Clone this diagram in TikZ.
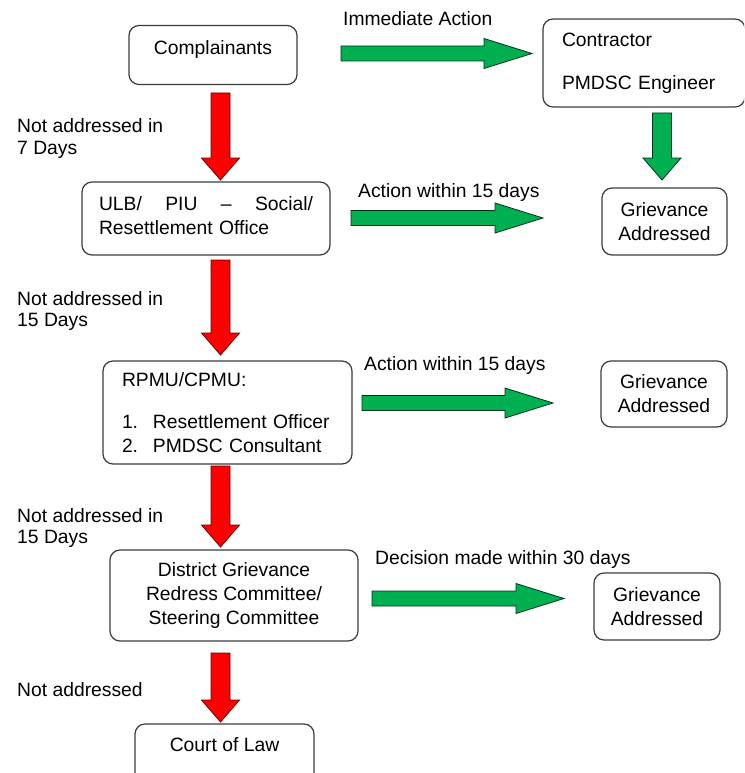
\documentclass[tikz,border=0pt]{standalone}
\usepackage{fontspec}
\setmainfont{Liberation Sans}
\usepackage{xcolor}
\usetikzlibrary{calc}
\definecolor{arrowgreen}{RGB}{0,176,80}
\definecolor{boxline}{RGB}{60,60,60}
\tikzset{
  box/.style={draw=boxline,line width=1.2pt,rounded corners=10pt,inner sep=0pt,align=center},
  lbl/.style={inner sep=0pt,anchor=west,align=left},
  gfill/.style={fill=arrowgreen,draw=black!70!arrowgreen,line width=0.8pt},
  rfill/.style={fill=red,draw=black!60!red,line width=0.8pt}
}
% block arrow to the right: start, tip, style
\newcommand{\blockright}[3]{%
  \draw[#3] let \p1=(#1), \p2=(#2) in
    (\x1,\y1+7.5pt) -- (\x2-48pt,\y1+7.5pt) -- (\x2-48pt,\y1+15pt) -- (\x2,\y1)
    -- (\x2-48pt,\y1-15pt) -- (\x2-48pt,\y1-7.5pt) -- (\x1,\y1-7.5pt) -- cycle;}
% block arrow downwards: start, tip, style
\newcommand{\blockdown}[3]{%
  \draw[#3] let \p1=(#1), \p2=(#2) in
    (\x1-9.5pt,\y1) -- (\x1-9.5pt,\y2+22pt) -- (\x1-19pt,\y2+22pt) -- (\x1,\y2)
    -- (\x1+19pt,\y2+22pt) -- (\x1+9.5pt,\y2+22pt) -- (\x1+9.5pt,\y1) -- cycle;}

\begin{document}
\begin{tikzpicture}[x=1pt,y=-1pt,font=\fontsize{19.3}{24}\selectfont]
\clip (0,0) rectangle (744,773);
\fill[white] (0,0) rectangle (744,773);
% boxes
\node[box,minimum width=168pt,minimum height=59pt,text depth=15pt] (compl) at (213,55) {Complainants};
\node[box,minimum width=202pt,minimum height=88pt,text width=164pt,align=left] (contr) at (644,63)
  {Contractor\\[19pt]PMDSC Engineer};
\node[box,minimum width=125pt,minimum height=67pt] (griev1) at (664.5,221.5) {Grievance\\Addressed};
\node[box,minimum width=248pt,minimum height=73pt,text width=214pt,align=left,text depth=30pt] (ulb) at (206,218.5)
  {\hbox to 214pt{ULB/\hfil PIU\hfil --\hfil Social/}\\Resettlement Office};
\node[box,minimum width=249pt,minimum height=103pt,text width=211pt,align=left] (rpmu) at (227.5,412.5)
  {RPMU/CPMU:\\[18pt]\makebox[31pt][l]{1.}Resettlement Officer\\\makebox[31pt][l]{2.}PMDSC Consultant};
\node[box,minimum width=126pt,minimum height=66pt] (griev2) at (664,394) {Grievance\\Addressed};
\node[box,minimum width=248pt,minimum height=91pt] (dgrc) at (234,595.5)
  {District Grievance\\Redress Committee/\\Steering Committee};
\node[box,minimum width=126pt,minimum height=67pt] (griev3) at (657,606.5) {Grievance\\Addressed};
\node[box,minimum width=179pt,minimum height=80pt,text depth=38pt] (court) at (224.5,764) {Court of Law};
% labels
\node[lbl] (limm) at (343,19) {Immediate Action};
\node[lbl,font=\fontsize{19.3}{21.5}\selectfont] (lnot1) at (17,138.5) {Not addressed in\\7 Days};
\node[lbl] (lact1) at (358,193) {Action within 15 days};
\node[lbl,font=\fontsize{19.3}{21.5}\selectfont] (lnot2) at (17,311) {Not addressed in\\15 Days};
\node[lbl] (lact2) at (364,366) {Action within 15 days};
\node[lbl,font=\fontsize{19.3}{21.5}\selectfont] (lnot3) at (17,528) {Not addressed in\\15 Days};
\node[lbl] (ldec) at (375,560) {Decision made within 30 days};
\node[lbl] (lnot4) at (17,690) {Not addressed};
% arrow ends
\coordinate (g1s) at (341,53.5);  \coordinate (g1e) at (532,53.5);
\coordinate (g2s) at (351,218);   \coordinate (g2e) at (543,218);
\coordinate (g3s) at (362,403);   \coordinate (g3e) at (553,403);
\coordinate (g4s) at (372,598.5); \coordinate (g4e) at (564,598.5);
\coordinate (gds) at (662,113);   \coordinate (gde) at (662,180);
\coordinate (r1s) at (220.5,93);  \coordinate (r1e) at (220.5,180);
\coordinate (r2s) at (220.5,260); \coordinate (r2e) at (220.5,355);
\coordinate (r3s) at (220.5,466); \coordinate (r3e) at (220.5,547);
\coordinate (r4s) at (220.5,653); \coordinate (r4e) at (220.5,722);
% arrows
\blockright{g1s}{g1e}{gfill}
\blockright{g2s}{g2e}{gfill}
\blockright{g3s}{g3e}{gfill}
\blockright{g4s}{g4e}{gfill}
\blockdown{gds}{gde}{gfill}
\blockdown{r1s}{r1e}{rfill}
\blockdown{r2s}{r2e}{rfill}
\blockdown{r3s}{r3e}{rfill}
\blockdown{r4s}{r4e}{rfill}
\end{tikzpicture}
\end{document}
